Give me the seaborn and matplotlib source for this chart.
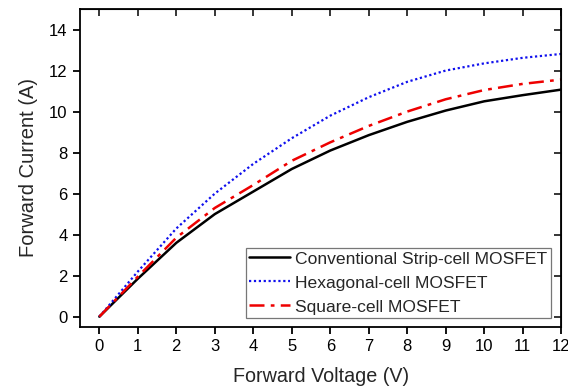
import numpy as np
import pandas as pd
import matplotlib
matplotlib.use('Agg')
import matplotlib.pyplot as plt
import seaborn as sns

voltage = [0, 1, 2, 3, 4, 5, 6, 7, 8, 9, 10, 11, 12]
strip_current = [0, 1.85, 3.6, 5.0, 6.1, 7.2, 8.1, 8.85, 9.5, 10.05, 10.5, 10.8, 11.07]
hex_current = [0, 2.2, 4.3, 6.0, 7.45, 8.7, 9.8, 10.7, 11.45, 12.0, 12.35, 12.62, 12.81]
square_current = [0, 1.95, 3.85, 5.3, 6.42, 7.6, 8.5, 9.3, 10.0, 10.6, 11.05, 11.35, 11.56]
labels = ['Conventional Strip-cell MOSFET', 'Hexagonal-cell MOSFET', 'Square-cell MOSFET']

sns.set_style('white')
plt.rcParams['font.family'] = ['Liberation Sans', 'DejaVu Sans']

df = pd.DataFrame({
    'V': voltage * 3,
    'I': strip_current + hex_current + square_current,
    'device': [labels[0]] * 13 + [labels[1]] * 13 + [labels[2]] * 13,
})

fig = plt.figure(figsize=(5.68, 3.92), dpi=100)
ax = fig.add_axes([0.141, 0.166, 0.847, 0.811])

styles = {
    labels[0]: dict(color='black', lw=1.8, ls='-'),
    labels[1]: dict(color='#1010ee', lw=1.6, ls=(0, (1, 1.2))),
    labels[2]: dict(color='#ee0000', lw=1.8, ls=(0, (6, 2.5, 1.5, 2.5))),
}
for name in labels:
    st = styles[name]
    sns.lineplot(data=df[df['device'] == name], x='V', y='I', ax=ax,
                 color=st['color'], linewidth=st['lw'], linestyle=st['ls'], label=name)

ax.set_xlim(-0.5, 12)
ax.set_ylim(-0.5, 15)
ax.set_xticks(range(0, 13))
ax.set_yticks(range(0, 15, 2))
ax.set_xlabel('Forward Voltage (V)', fontsize=14.2, labelpad=9)
ax.set_ylabel('Forward Current (A)', fontsize=14.5, labelpad=8)
ax.tick_params(axis='both', direction='out', length=5, width=1.3, labelsize=12,
               colors='black', bottom=True, left=True, pad=4)
for s in ax.spines.values():
    s.set_linewidth(1.3)
    s.set_color('black')

# mirror ticks pointing inward on top and right
top = ax.secondary_xaxis('top')
top.set_xticks(range(0, 13))
top.tick_params(direction='in', length=5, width=1.3, top=True, labeltop=False)
right = ax.secondary_yaxis('right')
right.set_yticks(range(0, 15, 2))
right.tick_params(direction='in', length=5, width=1.3, right=True, labelright=False)

leg = ax.legend(loc='lower right', bbox_to_anchor=(0.979, 0.028), fontsize=12.6,
                frameon=True, fancybox=False, edgecolor='#555555', handlelength=2.35,
                borderpad=0.2, labelspacing=0.5, handletextpad=0.3, borderaxespad=0)
leg.get_frame().set_linewidth(0.9)

fig.savefig('out.png', dpi=100)
